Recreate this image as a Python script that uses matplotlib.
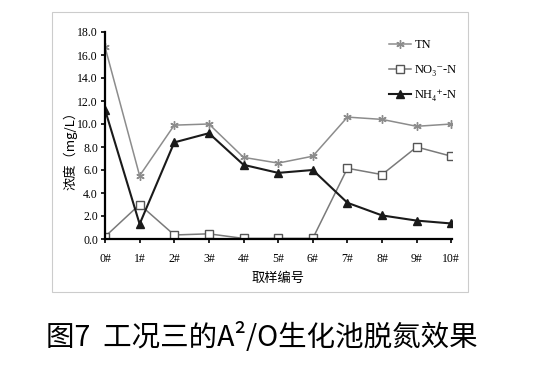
import matplotlib
matplotlib.use("Agg")
import matplotlib.pyplot as plt
from matplotlib.patches import Rectangle

# sample points and measured concentrations (mg/L)
samples = ["0#", "1#", "2#", "3#", "4#", "5#", "6#", "7#", "8#", "9#", "10#"]
tn = [16.7, 5.5, 9.9, 10.0, 7.1, 6.6, 7.2, 10.6, 10.4, 9.8, 10.0]
no3 = [0.2, 3.0, 0.35, 0.45, 0.05, 0.05, 0.05, 6.15, 5.6, 8.0, 7.2]
nh4 = [11.25, 1.3, 8.4, 9.2, 6.45, 5.75, 6.0, 3.15, 2.05, 1.6, 1.35]

serif = ["Liberation Serif", "DejaVu Serif"]
cjk = ["Noto Sans CJK SC", "DejaVu Sans"]

fig = plt.figure(figsize=(5.5, 3.69), dpi=100)
fig.patch.set_facecolor("white")

# light grey frame around the chart
fig.patches.append(Rectangle((52 / 550, 1 - 292 / 369), 416 / 550, 280 / 369,
                             transform=fig.transFigure, fill=False,
                             edgecolor="#cccccc", linewidth=0.8))

ax = fig.add_axes([105 / 550, 1 - 239 / 369, 347 / 550, 207 / 369])
x = list(range(len(samples)))

ax.plot(x, tn, color="#8c8c8c", linewidth=1.1, marker=(6, 2, 0),
        markersize=6, markeredgewidth=1.0, label="TN")
ax.plot(x, no3, color="#7a7a7a", linewidth=1.1, marker="s", markersize=5.5,
        markerfacecolor="white", markeredgecolor="#555555", markeredgewidth=1.0,
        label="NO₃⁻-N")
ax.plot(x, nh4, color="#1a1a1a", linewidth=1.5, marker="^", markersize=5.5,
        label="NH₄⁺-N")

for side in ["top", "right"]:
    ax.spines[side].set_visible(False)
for side in ["left", "bottom"]:
    ax.spines[side].set_linewidth(1.6)

ax.set_xlim(0, 10.02)
ax.set_ylim(0, 18)
ax.set_xticks(x)
ax.set_xticklabels(samples, family=serif, fontsize=8.5)
ax.set_yticks([i * 2 for i in range(10)])
ax.set_yticklabels(["%.1f" % (i * 2) for i in range(10)], family=serif, fontsize=8.5)
ax.tick_params(axis="y", direction="out", length=3, width=1.2, pad=2)
ax.tick_params(axis="x", direction="out", length=3, width=1.2, pad=7)

ax.set_ylabel("浓度（mg/L）", family=cjk, fontsize=9.5)
ax.yaxis.set_label_coords(-0.08, 0.44)
ax.set_xlabel("取样编号", family=cjk, fontsize=9.5, labelpad=5)

leg = ax.legend(loc="upper left", bbox_to_anchor=(0.785, 1.02), frameon=False,
                prop={"family": serif, "size": 9}, handlelength=1.8,
                labelspacing=1.05, handletextpad=0.3)

fig.text(262 / 550, 1 - 338 / 369, "图7  工况三的A²/O生化池脱氮效果", family=cjk,
         fontsize=20.5, ha="center", va="center")

fig.savefig("out.png", dpi=100)
